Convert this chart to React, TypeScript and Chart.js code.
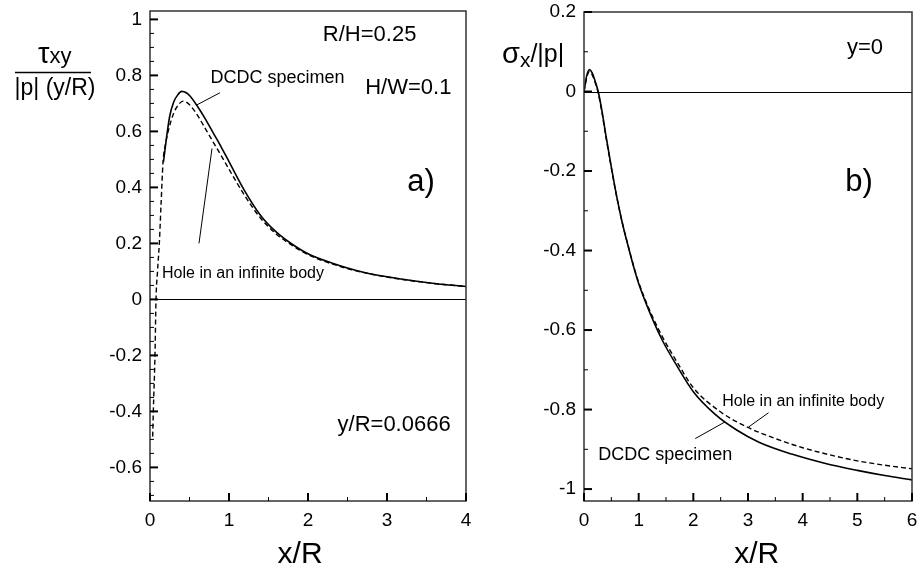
import React, { useEffect, useRef } from "react";
import { Chart, registerables } from "chart.js";

Chart.register(...registerables);

// ---------- Data: panel a) tau_xy / (|p| (y/R)) vs x/R ----------
const aDcdcX = [0.17, 0.22, 0.25, 0.3, 0.35, 0.4, 0.46, 0.5, 0.6, 0.7, 0.8, 0.9, 1.0, 1.2, 1.4, 1.6, 1.8, 2.0, 2.3, 2.7, 3.2, 3.6, 4.0];
const aDcdcY = [0.49, 0.6, 0.655, 0.705, 0.73, 0.743, 0.738, 0.728, 0.69, 0.645, 0.595, 0.545, 0.492, 0.387, 0.3, 0.24, 0.197, 0.163, 0.13, 0.097, 0.072, 0.057, 0.046];
const aHoleX = [0.034, 0.042, 0.063, 0.076, 0.095, 0.118, 0.14, 0.165, 0.2, 0.23, 0.3, 0.36, 0.42, 0.5, 0.6, 0.7, 0.8, 0.9, 1.0, 1.2, 1.4, 1.6, 1.8, 2.0, 2.5, 3.0, 3.5, 4.0];
const aHoleY = [-0.49, -0.4, -0.2, 0, 0.1, 0.2, 0.34, 0.49, 0.56, 0.6, 0.665, 0.695, 0.708, 0.695, 0.658, 0.61, 0.562, 0.514, 0.465, 0.37, 0.29, 0.233, 0.193, 0.16, 0.11, 0.08, 0.06, 0.046];

// ---------- Data: panel b) sigma_x / |p| vs x/R ----------
const bDcdcX = [0, 0.05, 0.1, 0.15, 0.2, 0.26, 0.33, 0.4, 0.5, 0.6, 0.7, 0.8, 0.9, 1.0, 1.2, 1.43, 1.7, 2.0, 2.4, 2.8, 3.2, 3.8, 4.4, 5.0, 5.5, 6.0];
const bDcdcY = [0, 0.04, 0.055, 0.047, 0.028, 0, -0.05, -0.11, -0.19, -0.265, -0.33, -0.385, -0.437, -0.483, -0.555, -0.625, -0.69, -0.755, -0.812, -0.852, -0.882, -0.912, -0.935, -0.953, -0.966, -0.977];
const bHoleX = [0, 0.05, 0.1, 0.15, 0.2, 0.26, 0.33, 0.4, 0.5, 0.6, 0.7, 0.8, 0.9, 1.0, 1.2, 1.43, 1.7, 2.0, 2.5, 3.0, 3.5, 4.0, 4.5, 5.0, 5.5, 6.0];
const bHoleY = [0, 0.035, 0.05, 0.042, 0.024, -0.004, -0.054, -0.113, -0.192, -0.266, -0.33, -0.384, -0.435, -0.48, -0.55, -0.616, -0.68, -0.745, -0.806, -0.845, -0.873, -0.896, -0.914, -0.929, -0.94, -0.949];

// ---------- Axis ranges ----------
const aXRange = [0, 4];
const aYRange = [-0.72, 1.03];
const bXRange = [0, 6];
const bYRange = [-1.03, 0.2];

const FONT = "'Liberation Sans', Arial, sans-serif";

type Txt = { t: string; x: number; y: number; size: number };
type Lead = [number, number, number, number];

const zip = (xs: number[], ys: number[]) => xs.map((x, i) => ({ x, y: ys[i] }));

function fmt(v: any) {
  const n = Math.round(Number(v) * 100) / 100;
  return String(n === 0 ? 0 : n);
}

function chain(ctx: CanvasRenderingContext2D, x0: number, parts: [string, number, number][]) {
  let x = x0;
  parts.forEach(([t, size, base]) => {
    ctx.font = `${size}px ${FONT}`;
    ctx.fillText(t, x, base);
    x += ctx.measureText(t).width;
  });
}

function makeDecor(cfg: any) {
  return {
    id: "decor",
    afterDraw(chart: any) {
      const ctx: CanvasRenderingContext2D = chart.ctx;
      const { left, right, top, bottom } = chart.chartArea;
      const xs = chart.scales.x;
      const ys = chart.scales.y;
      ctx.save();
      // zero line
      ctx.strokeStyle = "#000";
      ctx.lineWidth = 1;
      const y0 = Math.round(ys.getPixelForValue(0)) + 0.5;
      ctx.beginPath();
      ctx.moveTo(left, y0);
      ctx.lineTo(right, y0);
      ctx.stroke();
      // frame
      ctx.strokeStyle = "#333";
      ctx.lineWidth = 1.5;
      ctx.strokeRect(left, top, right - left, bottom - top);
      // ticks (inward)
      ctx.strokeStyle = "#000";
      const drawTicks = (min: number, max: number, minor: number, major: number, horiz: boolean) => {
        const i0 = Math.ceil(min / minor - 1e-9);
        const i1 = Math.floor(max / minor + 1e-9);
        for (let i = i0; i <= i1; i++) {
          const v = i * minor;
          const isMajor = Math.abs(v / major - Math.round(v / major)) < 1e-6;
          const len = isMajor ? 8 : 4;
          ctx.lineWidth = isMajor ? 2 : 1;
          ctx.beginPath();
          if (horiz) {
            const p = xs.getPixelForValue(v);
            ctx.moveTo(p, bottom);
            ctx.lineTo(p, bottom - len);
          } else {
            const p = ys.getPixelForValue(v);
            ctx.moveTo(left, p);
            ctx.lineTo(left + len, p);
          }
          ctx.stroke();
        }
      };
      drawTicks(xs.min, xs.max, cfg.xMinor, cfg.xMajor, true);
      drawTicks(ys.min, ys.max, cfg.yMinor, cfg.yMajor, false);

      // annotations
      ctx.fillStyle = "#000";
      ctx.textAlign = "center";
      ctx.textBaseline = "middle";
      cfg.texts.forEach((tx: Txt) => {
        ctx.font = `${tx.size}px ${FONT}`;
        ctx.fillText(tx.t, xs.getPixelForValue(tx.x), ys.getPixelForValue(tx.y));
      });
      ctx.lineWidth = 1;
      cfg.leads.forEach((l: Lead) => {
        ctx.beginPath();
        ctx.moveTo(xs.getPixelForValue(l[0]), ys.getPixelForValue(l[1]));
        ctx.lineTo(xs.getPixelForValue(l[2]), ys.getPixelForValue(l[3]));
        ctx.stroke();
      });
      // x-axis title
      ctx.font = `30px ${FONT}`;
      ctx.fillText("x/R", xs.getPixelForValue(cfg.xTitleAt), 555);
      // y-axis title
      cfg.yTitle(ctx);
      ctx.restore();
    },
  };
}

const panelA = {
  xRange: aXRange,
  yRange: aYRange,
  xMajor: 1,
  xMinor: 0.5,
  yMajor: 0.2,
  yMinor: 0.05,
  dcdc: zip(aDcdcX, aDcdcY),
  hole: zip(aHoleX, aHoleY),
  texts: [
    { t: "R/H=0.25", x: 2.78, y: 0.946, size: 22 },
    { t: "H/W=0.1", x: 3.27, y: 0.757, size: 22 },
    { t: "DCDC specimen", x: 1.614, y: 0.789, size: 18 },
    { t: "Hole in an infinite body", x: 1.177, y: 0.093, size: 16 },
    { t: "a)", x: 3.43, y: 0.418, size: 31 },
    { t: "y/R=0.0666", x: 3.09, y: -0.449, size: 22 },
  ] as Txt[],
  leads: [
    [0.886, 0.738, 0.582, 0.693],
    [0.62, 0.2, 0.785, 0.539],
  ] as Lead[],
  xTitleAt: 1.9,
  yTitle: (ctx: CanvasRenderingContext2D) => {
    ctx.textAlign = "left";
    ctx.textBaseline = "alphabetic";
    chain(ctx, 38, [
      ["τ", 29, 63],
      ["xy", 22, 63],
    ]);
    ctx.lineWidth = 1.5;
    ctx.beginPath();
    ctx.moveTo(15, 72.5);
    ctx.lineTo(91, 72.5);
    ctx.stroke();
    ctx.textAlign = "center";
    ctx.font = `23px ${FONT}`;
    ctx.fillText("|p| (y/R)", 55, 95);
  },
  canvasLeft: 0,
  width: 475,
  yWidth: 150,
  padTop: 11,
  padRight: 9,
};

const panelB = {
  xRange: bXRange,
  yRange: bYRange,
  xMajor: 1,
  xMinor: 0.5,
  yMajor: 0.2,
  yMinor: 0.1,
  dcdc: zip(bDcdcX, bDcdcY),
  hole: zip(bHoleX, bHoleY),
  texts: [
    { t: "y=0", x: 5.14, y: 0.11, size: 22 },
    { t: "b)", x: 5.03, y: -0.23, size: 31 },
    { t: "Hole in an infinite body", x: 4.01, y: -0.781, size: 16 },
    { t: "DCDC specimen", x: 1.486, y: -0.915, size: 18 },
  ] as Txt[],
  leads: [
    [3.01, -0.844, 3.375, -0.808],
    [2.035, -0.873, 2.58, -0.831],
  ] as Lead[],
  xTitleAt: 3.16,
  yTitle: (ctx: CanvasRenderingContext2D) => {
    ctx.textAlign = "left";
    ctx.textBaseline = "alphabetic";
    chain(ctx, 27, [
      ["σ", 29, 63],
      ["x", 21, 67],
      ["/|p|", 25, 62],
    ]);
  },
  canvasLeft: 475,
  width: 445,
  yWidth: 109,
  padTop: 12,
  padRight: 8,
};

function Panel({ cfg }: { cfg: any }) {
  const ref = useRef<HTMLCanvasElement>(null);
  useEffect(() => {
    const tickFont = { family: FONT, size: 19 };
    const chart = new Chart(ref.current as HTMLCanvasElement, {
      type: "line",
      data: {
        datasets: [
          {
            label: "DCDC specimen",
            data: cfg.dcdc,
            borderColor: "#000",
            borderWidth: 1.6,
            pointRadius: 0,
            fill: false,
            cubicInterpolationMode: "monotone",
          },
          {
            label: "Hole in an infinite body",
            data: cfg.hole,
            borderColor: "#000",
            borderWidth: 1.4,
            borderDash: [5, 3],
            pointRadius: 0,
            fill: false,
            cubicInterpolationMode: "monotone",
          },
        ],
      },
      options: {
        animation: false,
        responsive: false,
        maintainAspectRatio: false,
        layout: { padding: { left: 0, right: cfg.padRight, top: cfg.padTop, bottom: 0 } },
        plugins: { legend: { display: false }, tooltip: { enabled: false } },
        scales: {
          x: {
            type: "linear",
            min: cfg.xRange[0],
            max: cfg.xRange[1],
            grid: { display: false, drawTicks: false },
            border: { display: false },
            ticks: {
              stepSize: cfg.xMajor,
              includeBounds: false,
              autoSkip: false,
              maxRotation: 0,
              padding: 8,
              color: "#000",
              font: tickFont,
              callback: (v: any) => fmt(v),
            },
            afterFit: (s: any) => {
              s.height = 71;
              s.paddingLeft = 0;
              s.paddingRight = 0;
            },
          },
          y: {
            type: "linear",
            min: cfg.yRange[0],
            max: cfg.yRange[1],
            grid: { display: false, drawTicks: false },
            border: { display: false },
            ticks: {
              stepSize: cfg.yMajor,
              includeBounds: false,
              autoSkip: false,
              padding: 8,
              color: "#000",
              font: tickFont,
              callback: (v: any) => fmt(v),
            },
            afterFit: (s: any) => {
              s.width = cfg.yWidth;
              s.paddingTop = 0;
              s.paddingBottom = 0;
            },
          },
        },
      } as any,
      plugins: [makeDecor(cfg)],
    });
    return () => chart.destroy();
  }, []);
  return (
    <canvas
      ref={ref}
      width={cfg.width}
      height={572}
      style={{ position: "absolute", left: cfg.canvasLeft, top: 0, width: cfg.width, height: 572 }}
    />
  );
}

export default function App() {
  return (
    <div style={{ position: "absolute", left: 0, top: 0, width: 920, height: 572, background: "#fff" }}>
      <Panel cfg={panelA} />
      <Panel cfg={panelB} />
    </div>
  );
}
